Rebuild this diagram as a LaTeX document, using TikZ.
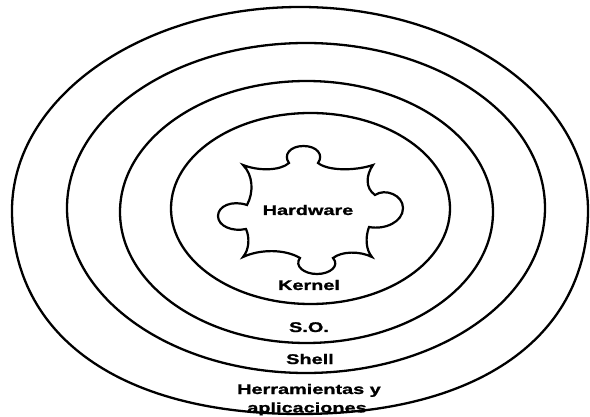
\documentclass[tikz,border=0pt]{standalone}
\usepackage{fontspec}
\newfontfamily\lblfont{Liberation Sans Bold}[FakeStretch=1.42, FakeBold=1.3]
\begin{document}
\begin{tikzpicture}[x=1pt,y=-1pt,
  ring/.style={line width=2.3pt, line join=round},
  piece/.style={line width=2.2pt, line join=miter},
  lbl/.style={font=\lblfont\fontsize{14}{15}\selectfont, inner sep=0pt, anchor=base}]
\useasboundingbox (0,0) rectangle (590,417);
% outer ring (slightly squarer at the bottom)
\draw[ring] (588,210.5)
  .. controls (588,98.2) and (459,7) .. (300,7)
  .. controls (141,7) and (12,98.2) .. (12,210.5)
  .. controls (12,336.7) and (121.4,414) .. (300,414)
  .. controls (478.6,414) and (588,336.7) .. cycle;
% inner rings
\draw[ring] (306,208) ellipse [x radius=239, y radius=165];
\draw[ring] (306.5,212) ellipse [x radius=186.5, y radius=131];
\draw[ring] (310.5,208.5) ellipse [x radius=139.5, y radius=95.5];
% puzzle piece
\draw[piece] (243,165)
  .. controls (258,171) and (280,171) .. (289,163)
  .. controls (283,155) and (290,146) .. (303.5,146)
  .. controls (317,146) and (324,155) .. (318,163)
  .. controls (328,171) and (355,171) .. (373,165)
  .. controls (366,175) and (365,188) .. (375,195)
  .. controls (385,188) and (403,195) .. (403,208)
  .. controls (403,222) and (385,230) .. (369,227)
  .. controls (365,238) and (366,250) .. (372,257)
  .. controls (360,251) and (342,251) .. (333,258)
  .. controls (340,266) and (330,274) .. (317,274)
  .. controls (304,274) and (294,266) .. (300,258)
  .. controls (285,249) and (260,249) .. (243,257)
  .. controls (249,250) and (250,238) .. (246,229)
  .. controls (232,232) and (218,226) .. (218,216)
  .. controls (218,206) and (232,200) .. (247,205)
  .. controls (254,192) and (253,175) .. cycle;
% labels
\node[lbl] (hw) at (308,215) {Hardware};
\node[lbl] (kn) at (309,290) {Kernel};
\node[lbl] (so) at (309,332) {S.O.};
\node[lbl] (sh) at (310,364) {Shell};
\node[lbl] (he) at (309,394) {Herramientas y};
\node[lbl] (ap) at (307,412.5) {aplicaciones};
\end{tikzpicture}
\end{document}
